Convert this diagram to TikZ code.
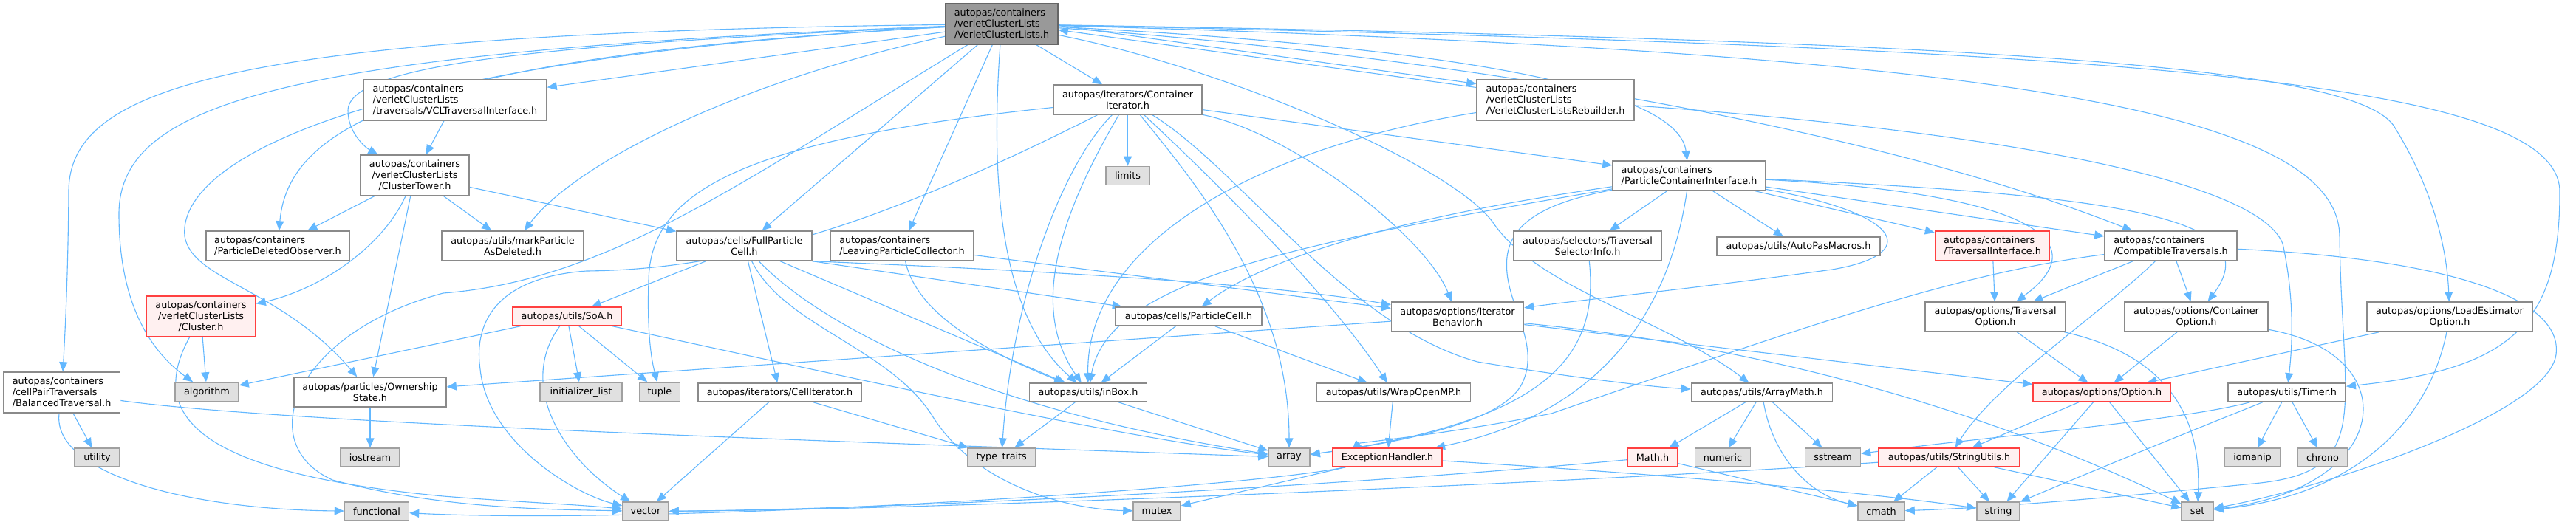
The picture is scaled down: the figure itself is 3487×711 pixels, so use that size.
\documentclass[tikz,border=0pt]{standalone}
\usepackage{fontspec}
\setmainfont{DejaVu Sans}
\usetikzlibrary{arrows.meta,backgrounds}
\definecolor{edgec}{HTML}{63B8FF}
\definecolor{bord}{HTML}{8A8A8A}
\definecolor{sysfill}{HTML}{E0E0E0}
\definecolor{sysbord}{HTML}{A0A0A0}
\definecolor{redb}{HTML}{FF4040}
\definecolor{redf}{HTML}{FFF0F0}
\definecolor{rootf}{HTML}{999999}
\definecolor{rootb}{HTML}{666666}
\tikzset{
  nb/.style={draw=bord, fill=white, line width=1.5pt, inner sep=0pt, align=center, text=black, font=\fontsize{12.8}{15}\selectfont},
  nl/.style={nb, align=left},
  sy/.style={nb, draw=sysbord, fill=sysfill},
  rd/.style={nb, draw=redb, fill=redf},
  rdl/.style={rd, align=left},
  rt/.style={nb, draw=rootb, fill=rootf, align=left},
  wh/.style 2 args={minimum width=#1pt, minimum height=#2pt},
  ed/.style={draw=edgec, line width=1.1pt, -{Triangle[length=13pt,width=11pt]}},
}
\begin{document}
\begin{tikzpicture}[x=1pt,y=-1pt]
\useasboundingbox (0,0) rectangle (3487,711);
% nodes
\node[rt, wh={152}{55}] (root) at (1356,32.5) {autopas/containers\\/verletClusterLists\\/VerletClusterLists.h};
\node[nl, wh={248}{55}] (vclti) at (616,135.5) {autopas/containers\\/verletClusterLists\\/traversals/VCLTraversalInterface.h};
\node[nb, wh={201}{40}] (ci) at (1526.5,135) {autopas/iterators/Container\\Iterator.h};
\node[nl, wh={213}{55}] (reb) at (2105.5,135.5) {autopas/containers\\/verletClusterLists\\/VerletClusterListsRebuilder.h};
\node[nb, wh={147}{55}] (ctow) at (561.5,237.5) {autopas/containers\\/verletClusterLists\\/ClusterTower.h};
\node[sy, wh={59}{25}] (limits) at (1526.5,238) {limits};
\node[nl, wh={207}{40}] (pci) at (2286.5,238) {autopas/containers\\/ParticleContainerInterface.h};
\node[nl, wh={194}{40}] (pdo) at (376,333) {autopas/containers\\/ParticleDeletedObserver.h};
\node[nb, wh={192}{40}] (mpad) at (694,333) {autopas/utils/markParticle\\AsDeleted.h};
\node[nb, wh={183}{40}] (fpc) at (1007.5,333) {autopas/cells/FullParticle\\Cell.h};
\node[nl, wh={194}{40}] (lpc) at (1221,333) {autopas/containers\\/LeavingParticleCollector.h};
\node[nb, wh={200}{40}] (tsi) at (2149,333) {autopas/selectors/Traversal\\SelectorInfo.h};
\node[nb, wh={221}{25}] (apm) at (2434.5,333.5) {autopas/utils/AutoPasMacros.h};
\node[rdl, wh={155}{40}] (tri) at (2697,333) {autopas/containers\\/TraversalInterface.h};
\node[nl, wh={179}{40}] (comp) at (2938.5,333) {autopas/containers\\/CompatibleTraversals.h};
\node[rd, wh={148}{55}] (cluster) at (272,428.5) {autopas/containers\\/verletClusterLists\\/Cluster.h};
\node[rd, wh={147}{25}] (soa) at (767.5,428.5) {autopas/utils/SoA.h};
\node[nb, wh={198}{25}] (pcell) at (1609,428.5) {autopas/cells/ParticleCell.h};
\node[nb, wh={179}{40}] (ib) at (1973,429) {autopas/options/Iterator\\Behavior.h};
\node[nb, wh={190}{40}] (tro) at (2701,429) {autopas/options/Traversal\\Option.h};
\node[nb, wh={194}{40}] (co) at (2973,429) {autopas/options/Container\\Option.h};
\node[nb, wh={224}{40}] (leo) at (3316,429) {autopas/options/LoadEstimator\\Option.h};
\node[nl, wh={158}{55}] (bal) at (83.6,531.5) {autopas/containers\\/cellPairTraversals\\/BalancedTraversal.h};
\node[sy, wh={86}{26}] (alg) at (280,531) {algorithm};
\node[nb, wh={206}{40}] (own) at (501,531) {autopas/particles/Ownership\\State.h};
\node[sy, wh={111}{26}] (initl) at (786.5,531) {initializer\_list};
\node[sy, wh={55}{26}] (tuple) at (893,531) {tuple};
\node[nb, wh={221}{25}] (citer) at (1055.5,531.5) {autopas/iterators/CellIterator.h};
\node[nb, wh={159}{25}] (inbox) at (1473,531.5) {autopas/utils/inBox.h};
\node[nb, wh={208}{25}] (wrap) at (1886.5,531.5) {autopas/utils/WrapOpenMP.h};
\node[nb, wh={191}{25}] (amath) at (2385,531.5) {autopas/utils/ArrayMath.h};
\node[rd, wh={186}{25}] (opt) at (2845,531.5) {autopas/options/Option.h};
\node[nb, wh={159}{25}] (timer) at (3095.7,531.5) {autopas/utils/Timer.h};
\node[sy, wh={61}{25}] (utility) at (131.5,619.5) {utility};
\node[sy, wh={80}{25}] (iostream) at (501,619.5) {iostream};
\node[sy, wh={92}{25}] (ttraits) at (1355.7,619.5) {type\_traits};
\node[sy, wh={56}{25}] (array) at (1745,619.5) {array};
\node[rd, wh={148}{25}] (exc) at (1878,619.5) {ExceptionHandler.h};
\node[rd, wh={67}{25}] (math) at (2237,619.5) {Math.h};
\node[sy, wh={75}{25}] (numeric) at (2332,619.5) {numeric};
\node[sy, wh={75}{25}] (sstream) at (2481,619.5) {sstream};
\node[rd, wh={191}{25}] (sutil) at (2638.5,619.5) {autopas/utils/StringUtils.h};
\node[sy, wh={75}{25}] (iomanip) at (3049,619.5) {iomanip};
\node[sy, wh={67}{25}] (chrono) at (3144,619.5) {chrono};
\node[sy, wh={87}{25}] (functional) at (510,692.5) {functional};
\node[sy, wh={62}{25}] (vector) at (874,692.5) {vector};
\node[sy, wh={64}{25}] (mutex) at (1566,692.5) {mutex};
\node[sy, wh={63}{25}] (cmath) at (2546.5,692.5) {cmath};
\node[sy, wh={58}{25}] (string) at (2705,692.5) {string};
\node[sy, wh={43}{25}] (set) at (2974.5,692.5) {set};
% edges
\begin{scope}[on background layer]
\fill[white] (0,0) rectangle (3487,711);
% root
\draw[ed] (root) -- (vclti);
\draw[ed] (root) .. controls (750,60) and (471,85) .. (471,150) .. controls (471,180) and (495,200) .. (ctow);
\draw[ed] (root) .. controls (560,75) and (390,170) .. (pdo);
\draw[ed] (root) .. controls (1000,110) and (780,220) .. (mpad);
\draw[ed] (root) -- (fpc);
\draw[ed] (root) -- (lpc);
\draw[ed] (root) .. controls (1340,250) and (1355,430) .. (inbox);
\draw[ed] (root) -- (ci);
\draw[ed] ([yshift=-2pt]root.east) -- ([yshift=22pt]reb.west);
\draw[ed] ([yshift=17pt]reb.west) -- ([yshift=-8pt]root.east);
\draw[ed] (root) .. controls (1900,60) and (2270,110) .. (pci);
\draw[ed] (root) .. controls (1900,70) and (2500,160) .. (comp);
\draw[ed] (root) .. controls (2700,55) and (3184,90) .. (3240,170) .. controls (3290,250) and (3312,330) .. (leo);
\draw[ed] (root) .. controls (2900,65) and (3465,110) .. (3465,260) .. controls (3465,440) and (3400,500) .. (timer);
\draw[ed] (root) .. controls (2700,70) and (3165,150) .. (3167,320) .. controls (3170,560) and (3215,640) .. (3050,655) .. controls (2900,670) and (2700,688) .. (cmath);
\draw[ed] (root) .. controls (300,45) and (93,120) .. (93,260) .. controls (92,380) and (88,450) .. (bal);
\draw[ed] (root) .. controls (380,70) and (161,140) .. (161,290) .. controls (161,420) and (210,480) .. (alg);
\draw[ed] (root) .. controls (480,80) and (240,220) .. (250,320) .. controls (260,380) and (380,390) .. (own);
\draw[ed] (root) .. controls (1650,90) and (1960,220) .. (2020,300) .. controls (2080,390) and (2250,430) .. (amath);
\draw[ed] (root) .. controls (1000,250) and (820,380) .. (600,397) .. controls (400,450) and (340,600) .. (450,650) .. controls (600,690) and (750,690) .. (vector);
% rebuilder
\draw[ed] (reb) .. controls (1700,200) and (1470,330) .. (inbox);
\draw[ed] (reb) .. controls (2600,170) and (3050,230) .. (3090,330) .. controls (3105,400) and (3104,460) .. (timer);
% vclti, cluster tower
\draw[ed] (vclti) -- (ctow);
\draw[ed] (ctow) -- (pdo);
\draw[ed] (ctow) -- (mpad);
\draw[ed] (ctow) -- (fpc);
\draw[ed] (ctow) .. controls (520,330) and (440,390) .. (cluster);
\draw[ed] (ctow) -- (own);
% container iterator
\draw[ed] (ci) .. controls (1000,190) and (880,260) .. (878,380) .. controls (876,440) and (880,480) .. (tuple);
\draw[ed] (ci) .. controls (1200,300) and (1000,365) .. (794,367) .. controls (680,375) and (640,430) .. (650,500) .. controls (660,600) and (780,670) .. (vector);
\draw[ed] (ci) .. controls (1440,220) and (1370,400) .. (ttraits);
\draw[ed] (ci) .. controls (1430,300) and (1395,420) .. (inbox);
\draw[ed] (ci) -- (limits);
\draw[ed] (ci) .. controls (1620,250) and (1745,400) .. (array);
\draw[ed] (ci) .. controls (1650,250) and (1800,400) .. (wrap);
\draw[ed] (ci) .. controls (1680,230) and (1820,440) .. (2000,490) .. controls (2150,515) and (2250,525) .. (amath);
\draw[ed] (ci) .. controls (1750,180) and (1930,320) .. (ib);
\draw[ed] (ci) -- (pci);
% particle container interface
\draw[ed] (pci) -- (tsi);
\draw[ed] (pci) -- (apm);
\draw[ed] (pci) -- (tri);
\draw[ed] (pci) -- (comp);
\draw[ed] (pci) .. controls (2900,265) and (3070,300) .. (co);
\draw[ed] (pci) .. controls (2720,260) and (2850,320) .. (tro);
\draw[ed] (pci) .. controls (2580,290) and (2600,345) .. (2480,365) .. controls (2300,390) and (2150,405) .. (ib);
\draw[ed] (pci) .. controls (1850,300) and (1700,360) .. (pcell);
\draw[ed] (pci) .. controls (1750,330) and (1500,380) .. (inbox);
\draw[ed] (pci) .. controls (2060,280) and (2035,320) .. (2040,370) .. controls (2045,420) and (2085,470) .. (2060,520) .. controls (2030,580) and (1850,605) .. (array);
\draw[ed] (pci) .. controls (2260,420) and (2170,560) .. (exc);
% full particle cell
\draw[ed] (fpc) -- (soa);
\draw[ed] (fpc) -- (citer);
\draw[ed] (fpc.south east) -- (pcell);
\draw[ed] (fpc.south east) .. controls (1300,362) and (1700,380) .. (ib);
\draw[ed] (fpc) -- (inbox);
\draw[ed] (fpc) .. controls (1060,440) and (1200,470) .. (1260,560) .. controls (1320,660) and (1450,690) .. (mutex);
\draw[ed] (fpc) .. controls (1100,430) and (1300,550) .. (array);
% leaving particle collector
\draw[ed] (lpc) .. controls (1240,420) and (1320,470) .. (inbox);
\draw[ed] (lpc) -- (ib);
% cell iterator, soa, cluster, balanced
\draw[ed] (citer) -- (vector);
\draw[ed] (citer) -- (ttraits);
\draw[ed] (soa) -- (alg);
\draw[ed] (soa) -- (initl);
\draw[ed] (soa) -- (tuple);
\draw[ed] (soa) .. controls (700,520) and (760,620) .. (vector);
\draw[ed] (soa) .. controls (1100,500) and (1500,590) .. (array);
\draw[ed] (cluster) -- (alg);
\draw[ed] (cluster) .. controls (200,560) and (260,640) .. (600,672) .. controls (700,680) and (780,683) .. (vector);
\draw[ed] (bal) -- (utility);
\draw[ed] (bal) .. controls (70,640) and (250,690) .. (functional);
\draw[ed] (bal) .. controls (400,575) and (1200,600) .. (array);
\draw[ed] (own) -- (iostream);
% iterator behavior
\draw[ed] (ib) -- (own);
\draw[ed] (ib) -- (opt);
\draw[ed] (ib) .. controls (2500,480) and (2800,610) .. (set);
% particle cell, inbox, wrap
\draw[ed] (pcell) -- (inbox);
\draw[ed] (pcell) -- (wrap);
\draw[ed] (inbox) -- (ttraits);
\draw[ed] (inbox) -- (array);
\draw[ed] (wrap) -- (exc);
\draw[ed] (tsi) .. controls (2165,480) and (2100,570) .. (array);
% array math, math
\draw[ed] (amath) -- (numeric);
\draw[ed] (amath) -- (sstream);
\draw[ed] (amath) .. controls (2400,620) and (2450,670) .. (cmath);
\draw[ed] (amath) -- (math);
\draw[ed] (math) -- (cmath);
\draw[ed] (math) .. controls (1800,660) and (1200,690) .. (vector);
% exception handler
\draw[ed] (exc) .. controls (2300,645) and (2550,670) .. (string);
\draw[ed] (exc) -- (mutex);
\draw[ed] (exc) .. controls (1700,660) and (900,712) .. (functional);
% string utils, option
\draw[ed] (sutil) -- (cmath);
\draw[ed] (sutil) -- (string);
\draw[ed] (sutil) -- (set);
\draw[ed] (sutil) .. controls (2200,650) and (1300,690) .. (vector);
\draw[ed] (opt) -- (sutil);
\draw[ed] (opt) -- (string);
\draw[ed] (opt) -- (set);
% timer
\draw[ed] (timer) -- (iomanip);
\draw[ed] (timer) -- (chrono);
\draw[ed] (timer) .. controls (2950,570) and (2700,590) .. (sstream);
\draw[ed] (timer) .. controls (2900,610) and (2780,660) .. (string);
% options
\draw[ed] (tro) -- (opt);
\draw[ed] (tro) .. controls (2930,480) and (2980,560) .. (set);
\draw[ed] (co) -- (opt);
\draw[ed] (co) .. controls (3260,480) and (3240,660) .. (set);
\draw[ed] (leo) -- (opt);
\draw[ed] (leo) .. controls (3290,560) and (3200,670) .. (set);
% compatible traversals
\draw[ed] (comp) -- (tro);
\draw[ed] (comp) -- (co);
\draw[ed] (comp) .. controls (2850,420) and (2700,520) .. (sutil);
\draw[ed] (comp) .. controls (3300,350) and (3470,400) .. (3460,480) .. controls (3450,560) and (3150,660) .. (set);
\draw[ed] (comp) .. controls (2650,370) and (2450,440) .. (2100,560) .. controls (1950,590) and (1830,600) .. (exc);
\draw[ed] (tri) -- (tro);
\end{scope}
\end{tikzpicture}
\end{document}
